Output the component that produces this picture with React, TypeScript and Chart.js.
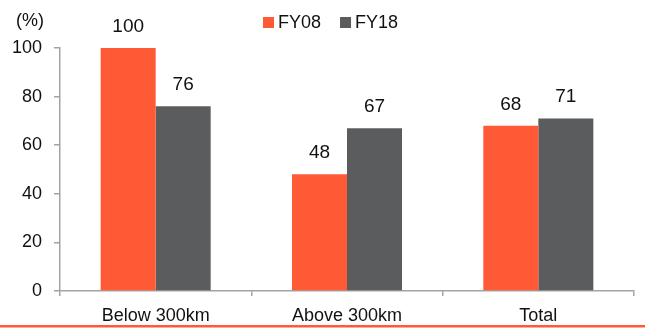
import { useEffect, useRef } from "react";
import { Chart, registerables } from "chart.js";

Chart.register(...registerables);

// Share of routes by distance band, FY08 vs FY18 (%)
const categories = ["Below 300km", "Above 300km", "Total"];
const seriesLabels = ["FY08", "FY18"];
const fy08Values = [100, 48, 68];
const fy18Values = [76, 67, 71];
const yTickValues = [0, 20, 40, 60, 80, 100];
const unitLabel = "(%)";

const FONT = '"Liberation Sans", Arial, Helvetica, sans-serif';
const ORANGE = "#FF5A36";
const GREY = "#5B5C5E";
const AXIS = "#A3A3A3";
const TEXT = "#111111";

const W = 645;
const H = 329;

// Value labels, unit label, legend and bottom rule
const decorations = {
  id: "decorations",
  afterDatasetsDraw(chart: any) {
    const ctx: CanvasRenderingContext2D = chart.ctx;
    ctx.save();

    ctx.font = `19px ${FONT}`;
    ctx.fillStyle = TEXT;
    ctx.textAlign = "center";
    ctx.textBaseline = "alphabetic";
    chart.data.datasets.forEach((ds: any, i: number) => {
      const meta = chart.getDatasetMeta(i);
      meta.data.forEach((bar: any, j: number) => {
        ctx.fillText(String(ds.data[j]), bar.x, bar.y - 16);
      });
    });

    ctx.font = `18px ${FONT}`;
    ctx.textBaseline = "middle";
    ctx.fillText(unitLabel, 30, 21);

    let x = 263;
    ctx.textAlign = "left";
    chart.data.datasets.forEach((ds: any) => {
      ctx.fillStyle = ds.backgroundColor;
      ctx.fillRect(x, 17, 11, 11);
      ctx.fillStyle = TEXT;
      ctx.fillText(ds.label, x + 15, 23);
      x += 15 + ctx.measureText(ds.label).width + 19;
    });

    ctx.fillStyle = ORANGE;
    ctx.fillRect(0, 325, chart.width, 2.5);
    ctx.restore();
  },
};

export default function App() {
  const canvasRef = useRef<HTMLCanvasElement | null>(null);

  useEffect(() => {
    if (!canvasRef.current) return;
    const chart = new Chart(canvasRef.current, {
      type: "bar",
      data: {
        labels: categories,
        datasets: [
          {
            label: seriesLabels[0],
            data: fy08Values,
            backgroundColor: ORANGE,
            categoryPercentage: 0.575,
            barPercentage: 1.0,
          },
          {
            label: seriesLabels[1],
            data: fy18Values,
            backgroundColor: GREY,
            categoryPercentage: 0.575,
            barPercentage: 1.0,
          },
        ],
      },
      options: {
        responsive: false,
        animation: false,
        devicePixelRatio: 1,
        layout: { padding: { top: 48, right: 11, left: 0, bottom: 0 } },
        plugins: {
          legend: { display: false },
          tooltip: { enabled: false },
        },
        scales: {
          x: {
            grid: {
              display: true,
              drawOnChartArea: false,
              drawTicks: true,
              tickLength: 5,
              color: AXIS,
              lineWidth: 1.5,
              offset: true,
            },
            border: { display: true, color: AXIS, width: 1.5 },
            ticks: {
              color: TEXT,
              font: { family: FONT, size: 18 },
              padding: 9,
              maxRotation: 0,
            },
            afterFit(scale: any) {
              scale.height = 38;
            },
          },
          y: {
            min: 0,
            max: 100,
            afterBuildTicks(scale: any) {
              scale.ticks = yTickValues.map((v) => ({ value: v }));
            },
            grid: {
              display: true,
              drawOnChartArea: false,
              drawTicks: true,
              tickLength: 6,
              color: AXIS,
              lineWidth: 1.5,
            },
            border: { display: true, color: AXIS, width: 1.5 },
            ticks: {
              color: TEXT,
              font: { family: FONT, size: 18 },
              padding: 12,
            },
            afterFit(scale: any) {
              scale.width = 60;
            },
          },
        },
      },
      plugins: [decorations],
    });
    return () => chart.destroy();
  }, []);

  return (
    <div style={{ position: "fixed", left: 0, top: 0, width: W, height: H, background: "#fff" }}>
      <canvas ref={canvasRef} width={W} height={H} style={{ display: "block" }} />
    </div>
  );
}
